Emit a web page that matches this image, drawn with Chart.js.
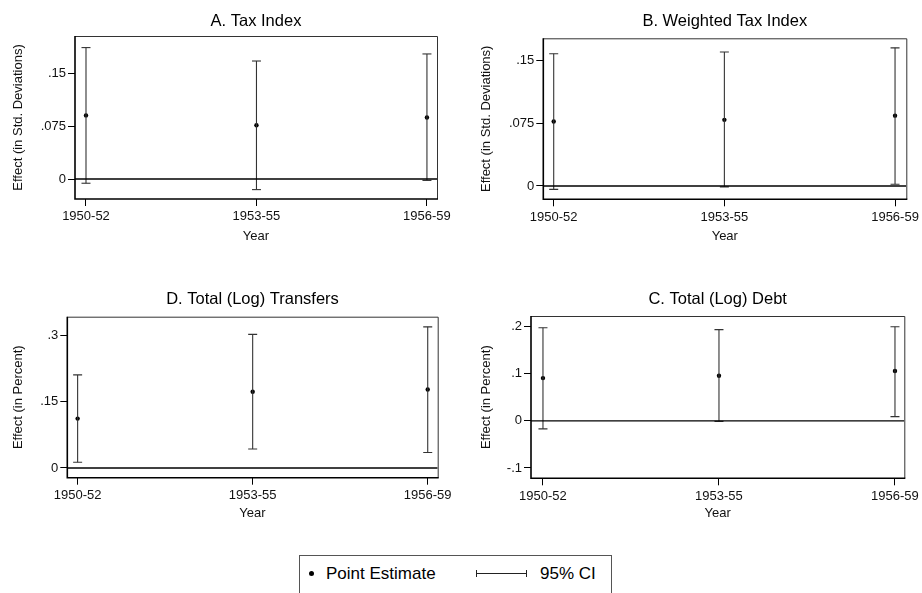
<!DOCTYPE html>
<html>
<head>
<meta charset="utf-8">
<script src="https://cdn.jsdelivr.net/npm/chart.js@4.4.1/dist/chart.umd.min.js"></script>
<style>
  html, body { margin: 0; padding: 0; background: #fff; }
  #wrap { position: relative; width: 922px; height: 593px; overflow: hidden; font-family: "Liberation Sans", Arial, sans-serif; color: #000; }
  #wrap canvas { position: absolute; }
  .legend { position: absolute; left: 299px; top: 555px; width: 313px; height: 60px; border: 1px solid #555; box-sizing: border-box; }
  .legend .lbl { position: absolute; top: 8px; font-size: 17px; line-height: 20px; white-space: nowrap; }
  .legend .dot { position: absolute; left: 9px; top: 15px; width: 5px; height: 5px; border-radius: 50%; background: #000; }
  .legend .ci { position: absolute; left: 176px; top: 14px; width: 51px; height: 7px; }
  .legend .ci::before { content: ""; position: absolute; left: 0; right: 0; top: 3px; border-top: 1px solid #222; }
  .legend .ci::after { content: ""; position: absolute; left: 0; right: 0; top: 0; bottom: 0; border-left: 1px solid #222; border-right: 1px solid #222; }
</style>
</head>
<body>
<div id="wrap">
  <canvas id="panel-a" width="461" height="250" style="left:0;top:0"></canvas>
  <canvas id="panel-b" width="461" height="250" style="left:461px;top:0"></canvas>
  <canvas id="panel-d" width="461" height="270" style="left:0;top:260px"></canvas>
  <canvas id="panel-c" width="461" height="270" style="left:461px;top:260px"></canvas>
  <div class="legend">
    <span class="dot"></span><span class="lbl" style="left:26px">Point Estimate</span>
    <span class="ci"></span><span class="lbl" style="left:240px">95% CI</span>
  </div>
</div>
<script>
/* -------- data -------- */
const categories = ["1950-52", "1953-55", "1956-59"];

// A. Tax Index
const taxEst = [0.090, 0.076, 0.087];
const taxLo  = [-0.006, -0.015, -0.002];
const taxHi  = [0.186, 0.167, 0.177];

// B. Weighted Tax Index
const wtaxEst = [0.077, 0.079, 0.084];
const wtaxLo  = [-0.004, -0.001, 0.002];
const wtaxHi  = [0.158, 0.160, 0.165];

// D. Total (Log) Transfers
const transEst = [0.112, 0.173, 0.178];
const transLo  = [0.013, 0.043, 0.035];
const transHi  = [0.211, 0.303, 0.320];

// C. Total (Log) Debt
const debtEst = [0.091, 0.096, 0.106];
const debtLo  = [-0.017, -0.001, 0.009];
const debtHi  = [0.198, 0.194, 0.200];

// tick labels
const sdTicks = [0, 0.075, 0.15];
const sdTickLabels = ["0", ".075", ".15"];
const transTicks = [0, 0.15, 0.3];
const transTickLabels = ["0", ".15", ".3"];
const debtTicks = [-0.1, 0, 0.1, 0.2];
const debtTickLabels = ["-.1", "0", ".1", ".2"];

/* -------- helpers -------- */
const FONT = "'Liberation Sans', Arial, sans-serif";
const TXT = "#111";

function ciData(lo, hi) {
  const out = [];
  lo.forEach((v, i) => {
    out.push({ x: i, y: v }, { x: i, y: hi[i] }, { x: i, y: null });
  });
  return out;
}

// panel title centred over the plot box
const panelTitle = {
  id: "panelTitle",
  afterDraw(chart, args, opts) {
    if (!opts.text) return;
    const { ctx, chartArea } = chart;
    ctx.save();
    ctx.font = "16.5px " + FONT;
    ctx.fillStyle = "#000";
    ctx.textAlign = "center";
    ctx.textBaseline = "middle";
    ctx.fillText(opts.text, (chartArea.left + chartArea.right) / 2, opts.y);
    ctx.restore();
  }
};

// stata-like frame round the plot region
const panelBox = {
  id: "panelBox",
  afterDraw(chart) {
    const { ctx, chartArea: a } = chart;
    ctx.save();
    ctx.strokeStyle = "#333";
    ctx.lineWidth = 1;
    ctx.beginPath();
    ctx.moveTo(a.left, a.top + 0.5);
    ctx.lineTo(a.right + 0.5, a.top + 0.5);
    ctx.lineTo(a.right + 0.5, a.bottom);
    ctx.stroke();
    ctx.strokeStyle = "#000";
    ctx.lineWidth = 1.6;
    ctx.beginPath();
    ctx.moveTo(a.left, a.top);
    ctx.lineTo(a.left, a.bottom);
    ctx.lineTo(a.right + 1, a.bottom);
    ctx.stroke();
    ctx.restore();
  }
};

Chart.register(panelTitle, panelBox);

/* -------- one panel -------- */
function drawPanel(id, cfg) {
  const canvas = document.getElementById(id);
  const w = canvas.width, h = canvas.height;
  const [left, top, right, bottom] = cfg.area;
  const font = { family: FONT, size: 13 };

  return new Chart(canvas.getContext("2d"), {
    type: "scatter",
    data: {
      datasets: [
        { // zero line
          data: [{ x: cfg.xMin, y: 0 }, { x: cfg.xMax, y: 0 }],
          showLine: true, borderColor: "#000", borderWidth: 1.4, pointRadius: 0
        },
        { // 95% CI
          data: ciData(cfg.lo, cfg.hi),
          showLine: true, spanGaps: false, borderColor: "#333", borderWidth: 1.1,
          pointStyle: "line", pointRadius: 4.5, pointBorderColor: "#333", pointBorderWidth: 1.1
        },
        { // point estimate
          data: cfg.est.map((v, i) => ({ x: i, y: v })),
          pointStyle: "circle", pointRadius: 2.2, pointBackgroundColor: "#000",
          pointBorderColor: "#000", pointBorderWidth: 0
        }
      ]
    },
    options: {
      responsive: false,
      animation: false,
      events: [],
      layout: { padding: { top: top, right: w - right, left: 0, bottom: 0 } },
      plugins: {
        legend: { display: false },
        tooltip: { enabled: false },
        panelTitle: { text: cfg.title, y: cfg.titleY }
      },
      scales: {
        x: {
          type: "linear", min: cfg.xMin, max: cfg.xMax,
          afterBuildTicks: s => { s.ticks = categories.map((c, i) => ({ value: i })); },
          afterFit: s => { s.height = h - bottom; s.paddingLeft = 0; s.paddingRight = 0; },
          ticks: { callback: v => categories[v], autoSkip: false, maxRotation: 0, padding: 3, color: TXT, font },
          grid: { drawOnChartArea: false, tickLength: 7, color: "#000" },
          border: { display: false },
          title: { display: true, text: "Year", color: TXT, font, padding: { top: 0, bottom: cfg.yearPad } }
        },
        y: {
          min: cfg.yMin, max: cfg.yMax,
          afterBuildTicks: s => { s.ticks = cfg.yTicks.map(v => ({ value: v })); },
          afterFit: s => { s.width = left; s.paddingTop = 0; s.paddingBottom = 0; },
          ticks: { callback: (v, i) => cfg.yLabels[i], padding: 2, color: TXT, font },
          grid: { drawOnChartArea: false, tickLength: 7, color: "#000" },
          border: { display: false },
          title: { display: true, text: cfg.yTitle, color: TXT, font, padding: { top: cfg.yTitlePad, bottom: 0 } }
        }
      }
    }
  });
}

/* -------- panels -------- */
drawPanel("panel-a", {
  title: "A. Tax Index", titleY: 21,
  area: [75, 36, 437, 199], xMin: -0.0645, xMax: 2.059,
  yMin: -0.0283, yMax: 0.2024, yTicks: sdTicks, yLabels: sdTickLabels,
  yTitle: "Effect (in Std. Deviations)", yTitlePad: 11, yearPad: 6,
  est: taxEst, lo: taxLo, hi: taxHi
});

drawPanel("panel-b", {
  title: "B. Weighted Tax Index", titleY: 21,
  area: [82.3, 38.3, 445.3, 199.3], xMin: -0.061, xMax: 2.066,
  yMin: -0.0159, yMax: 0.1764, yTicks: sdTicks, yLabels: sdTickLabels,
  yTitle: "Effect (in Std. Deviations)", yTitlePad: 18, yearPad: 6,
  est: wtaxEst, lo: wtaxLo, hi: wtaxHi
});

drawPanel("panel-d", {
  title: "D. Total (Log) Transfers", titleY: 39.3,
  area: [67.3, 56.7, 437.7, 217.7], xMin: -0.059, xMax: 2.057,
  yMin: -0.022, yMax: 0.343, yTicks: transTicks, yLabels: transTickLabels,
  yTitle: "Effect (in Percent)", yTitlePad: 10.5, yearPad: 9,
  est: transEst, lo: transLo, hi: transHi
});

drawPanel("panel-c", {
  title: "C. Total (Log) Debt", titleY: 39.3,
  area: [70, 56, 443.3, 218.3], xMin: -0.068, xMax: 2.053,
  yMin: -0.122, yMax: 0.223, yTicks: debtTicks, yLabels: debtTickLabels,
  yTitle: "Effect (in Percent)", yTitlePad: 18, yearPad: 9,
  est: debtEst, lo: debtLo, hi: debtHi
});
</script>
</body>
</html>
